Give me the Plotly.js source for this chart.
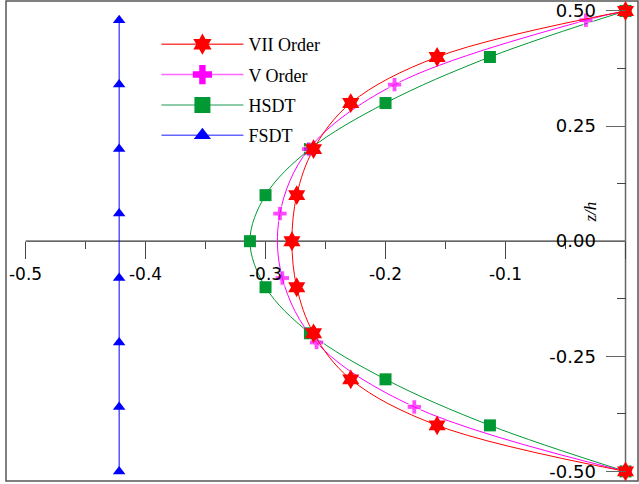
<!DOCTYPE html>
<html><head><meta charset="utf-8">
<script src="https://cdn.plot.ly/plotly-3.0.1.min.js"></script>
<style>html,body{margin:0;padding:0;background:#fff}#chart{width:639px;height:484px}</style>
</head><body><div id="chart"></div>
<script>
// VII Order (red hexagram)
const zVII = [-0.5,-0.4,-0.3,-0.2,-0.1,0,0.1,0.2,0.3,0.4,0.5];
const xVII = [0,-0.157,-0.229,-0.260,-0.274,-0.278,-0.274,-0.260,-0.229,-0.157,0];
// V Order (magenta cross)
const zV = [-0.5,-0.36,-0.22,-0.08,0.06,0.2,0.34,0.48,0.5];
const xV = [0,-0.176,-0.2575,-0.286,-0.288,-0.264,-0.1925,-0.033,0];
// HSDT (green square)
const zHSDT = [-0.5,-0.4,-0.3,-0.2,-0.1,0,0.1,0.2,0.3,0.4,0.5];
const xHSDT = [0,-0.113,-0.2,-0.263,-0.3,-0.313,-0.3,-0.263,-0.2,-0.113,0];
// FSDT (blue triangle)
const zFSDT = [-0.5,-0.36,-0.22,-0.08,0.06,0.2,0.34,0.48];
const xFSDT = [-0.422,-0.422,-0.422,-0.422,-0.422,-0.422,-0.422,-0.422];

const xTickVals = [-0.5,-0.4,-0.3,-0.2,-0.1,0.0];
const xTickText = ['-0.5','-0.4','-0.3','-0.2','-0.1','0.0'];
const yTickVals = [-0.5,-0.25,0,0.25,0.5];
const yTickText = ['-0.50','-0.25','0.00','0.25','0.50'];
const names = ['VII Order','V Order','HSDT','FSDT'];

const serif = 'Liberation Serif, Times New Roman, serif';
const sans = 'DejaVu Sans, sans-serif';

// hide marker on the last V-order point (line continues to the surface)
const vSizes = zV.map((z,i)=> i===zV.length-1 ? 0 : 12);

// order: VII, V, HSDT, FSDT
const styles = [
  {line:{color:'#ff0000',width:1,shape:'spline'}, marker:{symbol:'hexagram', size:15, color:'#ff0000'}, lm:{symbol:'hexagram', size:16, color:'#ff0000'}, lc:'#ff4444'},
  {line:{color:'#ff00ff',width:1,shape:'spline'}, marker:{symbol:'cross', size:vSizes, color:'#ff00ff'}, lm:{symbol:'cross', size:16, color:'#ff00ff'}, lc:'#ff66ff'},
  {line:{color:'#009933',width:1,shape:'spline'}, marker:{symbol:'square', size:12, color:'#009933'}, lm:{symbol:'square', size:16, color:'#009933'}, lc:'#66bb88'},
  {line:{color:'#0000ff',width:1}, marker:{symbol:'triangle-up', size:11, color:'#0000ff'}, lm:{symbol:'triangle-up', size:15, color:'#0000ff'}, lc:'#6666ff'}
];
const series = [[xVII,zVII,names[0]],[xV,zV,names[1]],[xHSDT,zHSDT,names[2]],[xFSDT,zFSDT,names[3]]];

const traces = [];
// legend-only entries first (larger symbols, like the reference key)
series.forEach((s,i)=>{
  traces.push({x:[null], y:[null], name:s[2], mode:'lines+markers', showlegend:true, legendgroup:'g'+i,
               line:{color:styles[i].lc, width:1.5}, marker:styles[i].lm});
});
// data traces, drawn FSDT first so VII ends on top
for (let i=series.length-1; i>=0; i--) {
  const s = series[i];
  traces.push({x:s[0], y:s[1], name:s[2], mode:'lines+markers', showlegend:false,
               line:styles[i].line, marker:styles[i].marker, legendgroup:'g'+i});
}

const xr = [-0.5163, 0.0104];
const yr = [-0.5208, 0.5216];

const layout = {
  width:639, height:484,
  margin:{l:6, r:1, t:1, b:3},
  paper_bgcolor:'#fff', plot_bgcolor:'#fff',
  showlegend:true,
  legend:{x:0.238, y:0.948, xanchor:'left', yanchor:'top', traceorder:'grouped', tracegroupgap:4,
          font:{family:serif, size:18, color:'#000'}, bgcolor:'rgba(0,0,0,0)', itemwidth:82},
  xaxis:{range:xr, anchor:'free', position:(0-yr[0])/(yr[1]-yr[0]), showgrid:false, zeroline:false, showline:false,
         tickmode:'array', tickvals:xTickVals, ticktext:xTickText, ticks:'outside', ticklen:17, tickcolor:'#444', tickwidth:1,
         minor:{dtick:0.05, tick0:0, ticks:'outside', ticklen:7, tickcolor:'#444', showgrid:false},
         tickfont:{family:sans, size:17, color:'#000'}, fixedrange:true},
  yaxis:{range:yr, anchor:'free', position:(0-xr[0])/(xr[1]-xr[0]), side:'left', showgrid:false, zeroline:false, showline:false,
         tickmode:'array', tickvals:yTickVals, ticktext:yTickText, ticks:'outside', ticklen:20, tickcolor:'#666', tickwidth:1,
         minor:{dtick:0.125, tick0:0, ticks:'outside', ticklen:9, tickcolor:'#444', showgrid:false},
         ticklabelstandoff:6,
         tickfont:{family:sans, size:18, color:'#000'}, fixedrange:true},
  shapes:[
    {type:'rect', xref:'paper', yref:'paper', x0:0, x1:1, y0:0, y1:1, line:{color:'#555', width:1.5}, layer:'below'},
    {type:'line', xref:'x', yref:'y', x0:xTickVals[0], x1:xTickVals[xTickVals.length-1], y0:0, y1:0, line:{color:'#333', width:1.2}, layer:'below'},
    {type:'line', xref:'x', yref:'y', x0:0, x1:0, y0:yTickVals[0], y1:yTickVals[yTickVals.length-1], line:{color:'#666', width:1.5}, layer:'below'}
  ],
  annotations:[
    {text:'z/h', xref:'paper', yref:'paper', x:0.9415, y:0.5604, showarrow:false, textangle:-90,
     font:{family:serif, size:17, color:'#000', style:'italic'}}
  ]
};

Plotly.newPlot('chart', traces, layout, {displayModeBar:false, staticPlot:true});
</script>
</body></html>
